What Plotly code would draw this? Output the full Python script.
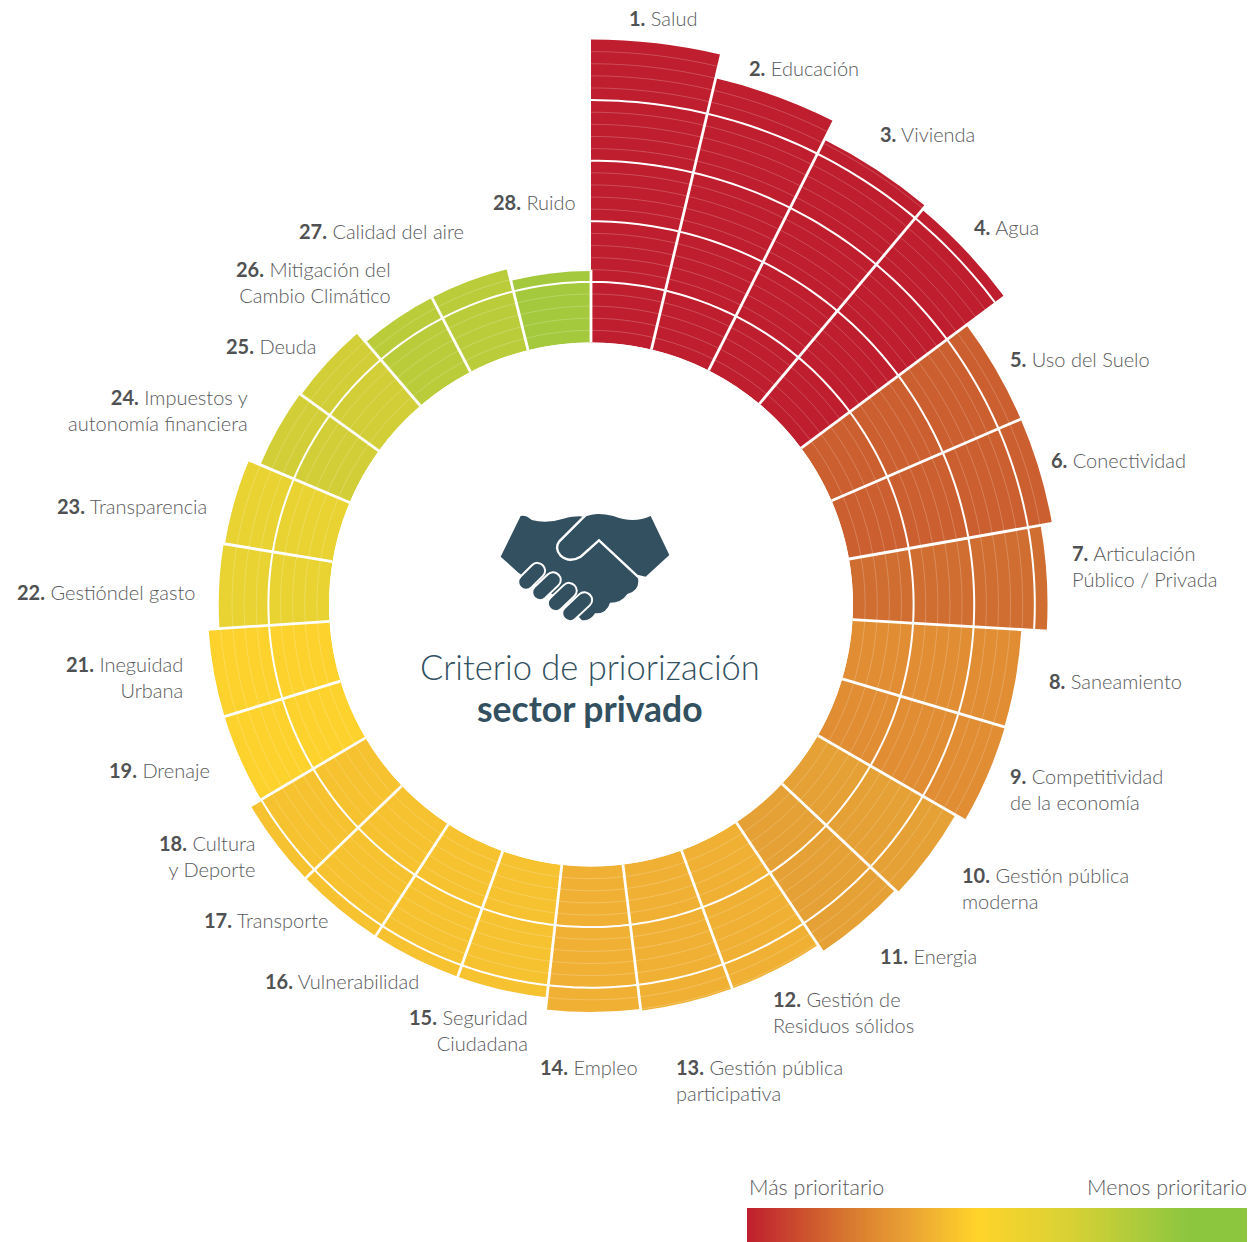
import numpy as np
import plotly.graph_objects as go

W, H = 1260, 1242
CX, CY, R0, BAND = 591.0, 604.5, 262.0, 60.6
R_DOM = 570.0

numbers = ["1.", "2.", "3.", "4.", "5.", "6.", "7.", "8.", "9.", "10.", "11.", "12.", "13.", "14.",
           "15.", "16.", "17.", "18.", "19.", "21.", "22.", "23.", "24.", "25.", "26.", "27.", "28."]
names = ["Salud", "Educación", "Vivienda", "Agua", "Uso del Suelo", "Conectividad",
         "Articulación<br>Público / Privada", "Saneamiento", "Competitividad<br>de la economía",
         "Gestión pública<br>moderna", "Energia", "Gestión de<br>Residuos sólidos",
         "Gestión pública<br>participativa", "Empleo", "Seguridad<br>Ciudadana", "Vulnerabilidad",
         "Transporte", "Cultura<br>y Deporte", "Drenaje", "Ineguidad<br>Urbana", "Gestióndel gasto",
         "Transparencia", "Impuestos y<br>autonomía financiera", "Deuda", "Mitigación del<br>Cambio Climático",
         "Calidad del aire", "Ruido"]
values = [5.0, 4.6, 4.26, 4.18, 3.4, 3.4, 3.21, 2.79, 2.8, 2.62, 2.56, 2.43, 2.43, 2.4,
          2.2, 2.2, 2.2, 2.2, 2.0, 2.0, 1.82, 1.8, 1.6, 1.58, 1.38, 1.38, 1.18]
# sector edges, degrees clockwise from the top
edges = [0, 13.33, 26.67, 40, 53.33, 66.67, 80, 93.33, 106.5, 120, 133.2, 146.3, 159.8, 173.0, 186.4,
         199.7, 213, 226.2, 239.4, 253, 266.3, 279.4, 292.9, 305.9, 319.35, 332.6, 346.1, 360]
colors = ["#BE1E2D"] * 4 + ["#CB5F2F"] * 2 + ["#D06E31"] + ["#E08D33"] * 2 + ["#E5A135"] * 2 + \
         ["#EFB034"] * 3 + ["#F6C230"] * 4 + ["#FDD22D"] * 2 + ["#E8D332"] * 2 + ["#D2CE37"] * 2 + \
         ["#BBCC3B"] * 2 + ["#A4C93C"]
label_x = [627, 747, 878, 972, 1008, 1049, 1070, 1047, 1008, 960, 878, 771, 674, 538,
           530, 421, 331, 258, 212, 185, 197, 209, 250, 319, 393, 466, 578]
label_y = [18, 68, 134, 227, 359, 460, 566, 681, 789, 888, 956, 1012, 1080, 1067,
           1030, 981, 920, 856, 770, 677, 592, 506, 410, 346, 282, 231, 202]
label_side = ["left"] * 14 + ["right"] * 13

legend_stops = [0, 0.2, 0.33, 0.46, 0.65, 0.88, 1]
legend_colors = ["#BE1E2D", "#D7772F", "#EBA434", "#FFD42A", "#D7D135", "#8CC63F", "#8CC63F"]

n = len(values)
theta = [(edges[i] + edges[i + 1]) / 2 for i in range(n)]
widths = [edges[i + 1] - edges[i] for i in range(n)]


def arc_trace(levels_by_sector, color, width):
    ths, rs = [], []
    for i, levels in enumerate(levels_by_sector):
        for lv in levels:
            for t in np.linspace(edges[i], edges[i + 1], 14):
                ths.append(float(t))
                rs.append(lv)
            ths.append(None)
            rs.append(None)
    return go.Scatterpolar(theta=ths, r=rs, mode="lines", line=dict(color=color, width=width),
                           hoverinfo="skip", showlegend=False)


thin = [[k / 5 for k in range(1, 25) if k % 5 and k / 5 < v - 0.02] for v in values]
thick = [[k for k in range(1, 5) if k < v - 0.02] for v in values]

fig = go.Figure()
fig.add_trace(go.Barpolar(theta=theta, r=values, width=widths, marker=dict(color=colors, line=dict(width=0)),
                          hovertext=names, showlegend=False))
fig.add_trace(arc_trace(thin, "rgba(255,255,255,0.30)", 0.7))
fig.add_trace(arc_trace(thick, "#FFFFFF", 2.0))

sep_t, sep_r = [], []
for i in range(n):
    nxt = values[(i + 1) % n]
    sep_t += [edges[i + 1], edges[i + 1], None]
    sep_r += [-0.02, max(values[i], nxt) + 0.02 if i < n - 1 else values[i] + 0.02, None]
fig.add_trace(go.Scatterpolar(theta=sep_t, r=sep_r, mode="lines", line=dict(color="#FFFFFF", width=2.8),
                              hoverinfo="skip", showlegend=False, cliponaxis=False))

# legend gradient
grad = np.linspace(0, 1, 201).tolist()
fig.add_trace(go.Heatmap(z=[grad], x=grad, y=[0],
                         colorscale=[[s, c] for s, c in zip(legend_stops, legend_colors)],
                         zmin=0, zmax=1, showscale=False, hoverinfo="skip", xaxis="x", yaxis="y"))

TEXT = "#58595B"
BOLD = "#505153"
FONT = "Lato"
ann = []
for num, name, x, y, side in zip(numbers, names, label_x, label_y, label_side):
    ann.append(dict(x=x / W, y=1 - y / H, xref="paper", yref="paper", xanchor=side, yanchor="middle", align=side,
                    showarrow=False, text=f"<b style='color:{BOLD}'>{num}</b> {name}",
                    font=dict(family=FONT, size=20, color=TEXT, weight=300)))
DARK = "#32505F"
ann.append(dict(x=590 / W, y=1 - 666 / H, xref="paper", yref="paper", xanchor="center", yanchor="middle",
                showarrow=False, text="Criterio de priorización", font=dict(family=FONT, size=34.5, color=DARK, weight=300)))
ann.append(dict(x=590 / W, y=1 - 708 / H, xref="paper", yref="paper", xanchor="center", yanchor="middle",
                showarrow=False, text="<b>sector privado</b>", font=dict(family=FONT, size=35.5, color=DARK)))
ann.append(dict(x=747 / W, y=1 - 1187 / H, xref="paper", yref="paper", xanchor="left", yanchor="middle",
                showarrow=False, text="Más prioritario", font=dict(family=FONT, size=21.5, color=TEXT, weight=300)))
ann.append(dict(x=1249 / W, y=1 - 1187 / H, xref="paper", yref="paper", xanchor="right", yanchor="middle",
                showarrow=False, text="Menos prioritario", font=dict(family=FONT, size=21.5, color=TEXT, weight=300)))


# handshake icon, drawn from zoomed reference units
def pz(zx, zy):
    return f"{(400 + zx / 3) / W:.5f},{1 - (500 + zy / 3) / H:.5f}"


def path(cmds):
    out = []
    for c, pts in cmds:
        out.append(c + " " + " ".join(pz(*p) for p in pts))
    return " ".join(out)


body = path([
    ("M", [(362, 48)]), ("Q", [(378, 44), (395, 60)]), ("Q", [(440, 72), (490, 56)]), ("Q", [(530, 46), (552, 50)]),
    ("L", [(575, 44)]), ("Q", [(600, 38), (640, 48)]), ("Q", [(700, 72), (752, 48)]),
    ("L", [(808, 165)]), ("L", [(737, 230)]), ("L", [(712, 224)]),
    ("Q", [(725, 270), (682, 282)]), ("Q", [(665, 308), (630, 308)]), ("Q", [(620, 342), (585, 340)]),
    ("Q", [(570, 365), (545, 360)]), ("L", [(500, 310)]), ("L", [(355, 218)]), ("L", [(302, 170)]),
]) + " Z"


def capsule(x1, y1, x2, y2, r):
    dx, dy = x2 - x1, y2 - y1
    d = (dx * dx + dy * dy) ** 0.5
    nx, ny = -dy / d * r, dx / d * r
    ux, uy = dx / d * r * 1.33, dy / d * r * 1.33
    return path([
        ("M", [(x1 + nx, y1 + ny)]), ("L", [(x2 + nx, y2 + ny)]),
        ("C", [(x2 + nx + ux, y2 + ny + uy), (x2 - nx + ux, y2 - ny + uy), (x2 - nx, y2 - ny)]),
        ("L", [(x1 - nx, y1 - ny)]),
        ("C", [(x1 - nx - ux, y1 - ny - uy), (x1 + nx - ux, y1 + ny - uy), (x1 + nx, y1 + ny)]),
    ]) + " Z"


shapes = [dict(type="path", xref="paper", yref="paper", path=body, fillcolor=DARK, line=dict(width=0), layer="above")]
seam = path([("M", [(556, 46)]), ("L", [(478, 124)]), ("Q", [(462, 145), (482, 167)]), ("Q", [(508, 190), (542, 170)]),
             ("L", [(597, 121)]), ("L", [(716, 232)])])
shapes.append(dict(type="path", xref="paper", yref="paper", path=seam, line=dict(color="#FFFFFF", width=2.4), layer="above"))
for f in [(378, 246, 412, 212), (420, 277, 459, 240), (467, 310, 507, 272), (510, 340, 553, 300)]:
    shapes.append(dict(type="path", xref="paper", yref="paper", path=capsule(*f, 23), fillcolor=DARK,
                       line=dict(color="#FFFFFF", width=2.0), layer="above"))

fig.update_layout(
    width=W, height=H, margin=dict(l=0, r=0, t=0, b=0), paper_bgcolor="#FFFFFF", plot_bgcolor="rgba(0,0,0,0)",
    showlegend=False, annotations=ann, shapes=shapes,
    polar=dict(
        domain=dict(x=[(CX - R_DOM) / W, (CX + R_DOM) / W], y=[1 - (CY + R_DOM) / H, 1 - (CY - R_DOM) / H]),
        hole=R0 / R_DOM, bgcolor="rgba(0,0,0,0)", barmode="overlay",
        radialaxis=dict(range=[0, (R_DOM - R0) / BAND], visible=False),
        angularaxis=dict(rotation=90, direction="clockwise", visible=False),
    ),
    xaxis=dict(domain=[747 / W, 1247 / W], visible=False, range=[0, 1], fixedrange=True),
    yaxis=dict(domain=[0, 34 / H], visible=False, range=[-0.5, 0.5], fixedrange=True),
)
fig.write_html("out.html", config={"displayModeBar": False},
               post_script="document.body.style.margin='0';document.body.style.overflow='hidden';")
